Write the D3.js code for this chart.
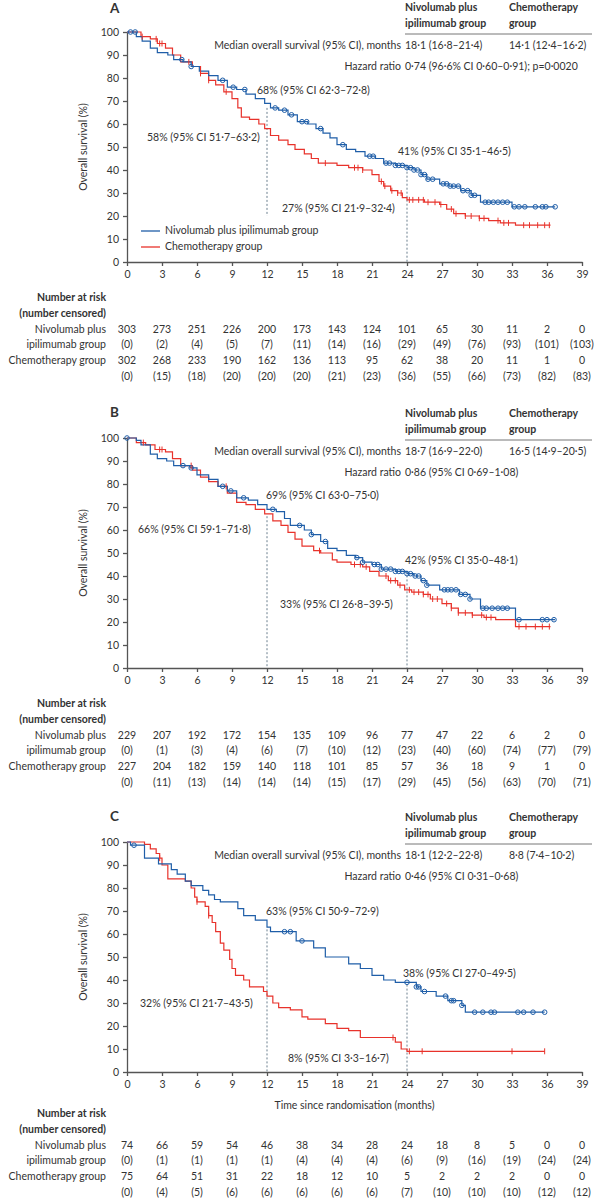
<!DOCTYPE html>
<html>
<head>
<meta charset="utf-8">
<script src="https://cdn.jsdelivr.net/npm/d3@7"></script>
<style>
  body { margin: 0; background: #fff; }
  text { font-family: Lato, "Noto Sans", sans-serif; fill: #333; }
</style>
</head>
<body>
<svg id="chart" width="595" height="1200"></svg>
<script>
// ---- data ----
const monthTicks = d3.range(0, 40, 3);

const nivoA = [[0,100],[0.8,98],[1.3,96],[2,93],[2.6,91],[3.5,90],[4,88],[4.8,87],[5.5,85],[6.2,83],[7,81],[7.8,79],[8.6,76],[9.4,75],[10.2,73],[11,71],[11.8,69],[12.3,67],[13,66],[13.8,64],[14.6,61],[15.5,60],[16.2,58],[16.8,56],[17.4,54],[18,51],[18.8,49],[19.6,48],[20.4,46],[21.3,45],[22,43],[23,42],[24,41],[24.6,40],[25.2,38],[25.7,36],[26.8,34],[27.6,33],[28.6,31],[29.5,29],[30.3,26],[33,24]];
const chemoA = [[0,100],[1.2,98],[2,97],[2.6,95],[3.3,93],[3.9,90],[4.6,87],[5.6,85],[6.3,82],[7,79],[7.6,77],[8.3,74],[9,71],[9.5,67],[9.8,63],[10.5,62],[11.3,60],[11.8,58],[12.3,55],[13,53],[13.8,51],[14.4,49],[15.2,47],[15.8,45],[16.4,43],[18,42],[19,41],[20.2,40],[21,38],[21.6,35],[22,33],[22.6,31],[23.2,30],[23.6,28],[24,27],[25.5,26],[26.8,25],[27.4,23],[28,21],[29,20],[30.2,19],[31,18],[32,17],[33.3,16]];
const nivoA_cens = [0.3,0.7,4.7,5.5,8.2,9.1,10.1,12.7,13.5,14.1,15,15.4,16.6,18.5,20.8,21.1,22.2,22.5,23,23.3,23.6,24,24.3,24.6,24.9,25.2,25.5,25.8,26.2,27.1,27.4,27.7,28,28.4,28.8,29.2,29.5,29.8,30.7,31,31.4,31.8,32.2,32.6,33.2,33.6,34.1,35,35.6,35.9,36.7];
const chemoA_cens = [1.3,2.5,2.8,3,5.3,6.3,7,8.5,17,19.5,19.8,20.2,21.8,22.1,22.7,23.2,23.5,24.2,24.5,25,25.4,25.8,26.4,26.9,27.8,28.2,29,29.5,30.2,30.6,31.8,32.3,32.7,34,34.5,35.2,35.8,36.2];

const nivoB = [[0,100],[0.8,99],[1.2,97],[2,93],[2.6,91],[3.4,90],[4,88],[5.4,87],[6,84],[7,82],[7.8,79],[8.6,77],[9.4,74],[10.4,73],[11.2,71],[12,69],[12.8,68],[13.5,65],[14,62],[15.2,60],[15.8,58],[16.6,55],[17.2,52],[18,51],[18.8,49],[19.6,48],[20.2,46],[21,45],[21.8,43],[23,42],[24,41],[24.6,40],[25.2,38],[25.7,36],[26.8,34],[28.5,32],[29.4,30],[30.3,26],[33.3,21]];
const chemoB = [[0,100],[0.8,98],[1.6,97],[2.4,95],[3.3,94],[3.9,91],[4.6,88],[5.6,86],[6.3,83],[7,81],[7.8,79],[8.6,76],[9.4,72],[10.2,71],[11,69],[11.8,67],[12.5,64],[13.2,62],[13.8,59],[14.4,56],[15,53],[16,51],[16.6,50],[17.6,47],[18,46],[19.2,45],[20.2,44],[20.8,42],[21.6,40],[22.4,38],[23.2,36],[23.8,34],[24.4,33],[25.4,32],[26,30],[27,28],[27.8,26],[28.4,24],[29.6,23],[30.6,22],[31.6,21],[33.3,18]];
const nivoB_cens = [0,4.8,5.5,8.2,8.9,10,12.5,14.8,15.8,17,19.7,20.2,21.2,21.5,21.8,22.2,22.6,23,23.3,23.6,24,24.3,24.7,25,25.4,25.7,27.2,27.5,27.8,28.2,28.6,29,29.4,30.5,30.8,31.3,31.8,32.2,32.6,33.6,35.6,36,36.6];
const chemoB_cens = [1.4,2.8,3,5.5,8.5,16.5,19.5,20,20.5,22.2,22.6,23,23.4,24.2,24.6,25,25.4,25.8,26.2,26.6,27.4,27.8,28.4,29,29.6,30.4,30.8,31.2,33.6,34.2,35,35.6,36.2];

const nivoC = [[0,100],[0.3,98.6],[1.5,93],[2.7,90.5],[3.8,88],[4.3,86],[5,83],[5.5,81],[6.5,79],[7,77],[7.5,75],[8,74],[9.5,71],[10,68],[11,66],[12,63],[12.3,61],[14.5,57],[16,54],[17,50],[19,47],[20,45],[21,42],[22,40],[23,39],[24.8,37],[25.2,35],[26.5,33],[27.5,31],[28.7,29],[29,26]];
const chemoC = [[0,100],[1.5,99],[2,97],[2.5,95],[2.8,93],[3,90],[3.5,84],[5,83],[5.5,80],[5.8,76],[6,74],[6.7,72],[7,68],[7.3,65],[7.6,61],[8,56],[8.3,53],[8.8,49],[9,45],[9.3,42],[10,40],[10.5,37],[11.7,35],[12,33],[12.5,30],[13,28],[14,27],[15,24],[15.5,23],[17,21],[18,19],[19,18],[20,15],[23,13],[23.5,10],[24,9]];
const nivoC_cens = [0.6,13.5,14,15,24,24.8,25,25.5,27.3,27.8,28,28.7,29.8,30.5,31.2,31.5,33.5,34,34.8,35.8];
const chemoC_cens = [2.8,6,7,22.8,24.2,25.3,33,35.8];

const riskA = [[303,273,251,226,200,173,143,124,101,65,30,11,2,0],["0","2","4","5","7","11","14","16","29","49","76","93","101","103"],[302,268,233,190,162,136,113,95,62,38,20,11,1,0],["0","15","18","20","20","20","21","23","36","55","66","73","82","83"]];
const riskB = [[229,207,192,172,154,135,109,96,77,47,22,6,2,0],["0","1","3","4","6","7","10","12","23","40","60","74","77","79"],[227,204,182,159,140,118,101,85,57,36,18,9,1,0],["0","11","13","14","14","14","15","17","29","45","56","63","70","71"]];
const riskC = [[74,66,59,54,46,38,34,28,24,18,8,5,0,0],["0","1","1","1","1","4","4","4","6","9","16","19","24","24"],[75,64,51,31,22,18,12,10,5,2,2,2,0,0],["0","4","5","6","6","6","6","6","7","10","10","10","12","12"]];

const panels = [
  { letter: "A", top: 32, nivo: nivoA, chemo: chemoA, nivoEnd: 36.7, chemoEnd: 36.3, nc: nivoA_cens, cc: chemoA_cens, risk: riskA,
    median: ["18·1 (16·8–21·4)", "14·1 (12·4–16·2)"], hr: "0·74 (96·6% CI 0·60–0·91); p=0·0020",
    notes: [["68% (95% CI 62·3–72·8)", 257, 91], ["58% (95% CI 51·7–63·2)", 147, 138], ["41% (95% CI 35·1–46·5)", 398, 152], ["27% (95% CI 21·9–32·4)", 282, 209]],
    drops: [[12, 67, 20], [24, 41, 0]], legend: true },
  { letter: "B", top: 438, nivo: nivoB, chemo: chemoB, nivoEnd: 36.7, chemoEnd: 36.3, nc: nivoB_cens, cc: chemoB_cens, risk: riskB,
    median: ["18·7 (16·9–22·0)", "16·5 (14·9–20·5)"], hr: "0·86 (95% CI 0·69–1·08)",
    notes: [["69% (95% CI 63·0–75·0)", 266, 496], ["66% (95% CI 59·1–71·8)", 138, 530], ["42% (95% CI 35·0–48·1)", 405, 561], ["33% (95% CI 26·8–39·5)", 280, 605]],
    drops: [[12, 66, 0], [24, 42, 0]] },
  { letter: "C", top: 842, nivo: nivoC, chemo: chemoC, nivoEnd: 35.8, chemoEnd: 35.8, nc: nivoC_cens, cc: chemoC_cens, risk: riskC,
    median: ["18·1 (12·2–22·8)", "8·8 (7·4–10·2)"], hr: "0·46 (95% CI 0·31–0·68)",
    notes: [["63% (95% CI 50·9–72·9)", 266, 912], ["32% (95% CI 21·7–43·5)", 140, 1004], ["38% (95% CI 27·0–49·5)", 403, 974], ["8% (95% CI 3·3–16·7)", 288, 1059]],
    drops: [[12, 62, 0], [24, 38, 0]], xlabel: true }
];

const blue = "#1f5ea8", red = "#e8322b", axisCol = "#555";
const svg = d3.select("#chart");
const x = d3.scaleLinear().domain([0, 39]).range([127, 582]);
const rowLabels = [["Nivolumab plus", 0], ["ipilimumab group", 1], ["Chemotherapy group", 2]];

function stepAt(pts, t) {
  let v = pts[0][1];
  for (const p of pts) { if (p[0] <= t) v = p[1]; }
  return v;
}

panels.forEach(p => {
  const y = d3.scaleLinear().domain([0, 100]).range([p.top + 230, p.top]);
  const g = svg.append("g");
  const fs = 10.5;

  g.append("text").attr("x", 110).attr("y", Math.max(p.top - 24, 10)).attr("font-size", 13.5).attr("font-weight", "bold")
    .attr("dominant-baseline", "middle").text(p.letter);

  // summary table
  const t = g.append("g").attr("font-size", fs);
  [["Nivolumab plus", "Chemotherapy"], ["ipilimumab group", "group"]].forEach((r, i) => {
    t.append("text").attr("x", 405).attr("y", p.top - 24 + i * 16).attr("font-weight", "bold").attr("dominant-baseline", "middle").text(r[0]);
    t.append("text").attr("x", 509).attr("y", p.top - 24 + i * 16).attr("font-weight", "bold").attr("dominant-baseline", "middle").text(r[1]);
  });
  t.append("line").attr("x1", 405).attr("x2", 592).attr("y1", p.top + 2).attr("y2", p.top + 2).attr("stroke", "#777");
  t.append("text").attr("x", 401).attr("y", p.top + 14).attr("text-anchor", "end").attr("dominant-baseline", "middle").text("Median overall survival (95% CI), months");
  t.append("text").attr("x", 405).attr("y", p.top + 14).attr("dominant-baseline", "middle").text(p.median[0]);
  t.append("text").attr("x", 509).attr("y", p.top + 14).attr("dominant-baseline", "middle").text(p.median[1]);
  t.append("text").attr("x", 401).attr("y", p.top + 35).attr("text-anchor", "end").attr("dominant-baseline", "middle").text("Hazard ratio");
  t.append("text").attr("x", 405).attr("y", p.top + 35).attr("dominant-baseline", "middle").text(p.hr);

  // axes
  const ya = g.append("g").attr("transform", `translate(${x(0)},0)`)
    .call(d3.axisLeft(y).tickValues(d3.range(0, 101, 10)).tickSize(4).tickSizeOuter(0));
  const xa = g.append("g").attr("transform", `translate(0,${y(0)})`)
    .call(d3.axisBottom(x).tickValues(monthTicks).tickSize(4).tickSizeOuter(0));
  [ya, xa].forEach(a => {
    a.selectAll("path,line").attr("stroke", axisCol).attr("stroke-width", 1.3);
    a.selectAll("text").attr("font-size", fs).attr("fill", "#333").style("font-family", "Lato, sans-serif");
  });
  ya.selectAll("text").attr("dx", "-1");
  xa.selectAll("text").attr("dy", "0.9em");

  g.append("text").attr("transform", `translate(84,${y(50)}) rotate(-90)`).attr("text-anchor", "middle")
    .attr("font-size", fs).attr("dominant-baseline", "middle").text("Overall survival (%)");

  // dotted reference lines
  p.drops.forEach(d => {
    g.append("line").attr("x1", x(d[0])).attr("x2", x(d[0])).attr("y1", y(d[1])).attr("y2", y(d[2]))
      .attr("stroke", "#6b7f8e").attr("stroke-width", 1).attr("stroke-dasharray", "2,2");
  });

  // curves
  const line = d3.line().x(d => x(d[0])).y(d => y(d[1])).curve(d3.curveStepAfter);
  [[p.chemo, p.chemoEnd, red], [p.nivo, p.nivoEnd, blue]].forEach(([pts, end, col]) => {
    const full = pts.concat([[end, pts[pts.length - 1][1]]]);
    g.append("path").attr("d", line(full)).attr("fill", "none").attr("stroke", col).attr("stroke-width", 1.2);
  });
  g.selectAll(null).data(p.cc).join("line")
    .attr("x1", d => x(d)).attr("x2", d => x(d))
    .attr("y1", d => y(stepAt(p.chemo, d)) - 3).attr("y2", d => y(stepAt(p.chemo, d)) + 3)
    .attr("stroke", red).attr("stroke-width", 1);
  g.selectAll(null).data(p.nc).join("circle")
    .attr("cx", d => x(d)).attr("cy", d => y(stepAt(p.nivo, d))).attr("r", 2.3)
    .attr("fill", "none").attr("stroke", blue).attr("stroke-width", 1);

  // annotations
  p.notes.forEach(n => {
    g.append("text").attr("x", n[1]).attr("y", n[2]).attr("font-size", fs).attr("dominant-baseline", "middle").text(n[0]);
  });

  if (p.legend) {
    [["Nivolumab plus ipilimumab group", blue, 231], ["Chemotherapy group", red, 247]].forEach(l => {
      g.append("line").attr("x1", 141).attr("x2", 160).attr("y1", l[2]).attr("y2", l[2]).attr("stroke", l[1]).attr("stroke-width", 1.3);
      g.append("text").attr("x", 165).attr("y", l[2]).attr("font-size", fs).attr("dominant-baseline", "middle").text(l[0]);
    });
  }

  let base = y(0);
  if (p.xlabel) {
    g.append("text").attr("x", x(19.5)).attr("y", base + 34).attr("text-anchor", "middle").attr("font-size", fs)
      .attr("dominant-baseline", "middle").text("Time since randomisation (months)");
    base += 6;
  }

  // number at risk
  g.append("text").attr("x", 106).attr("y", base + 36).attr("text-anchor", "end").attr("font-size", fs).attr("font-weight", "bold")
    .attr("dominant-baseline", "middle").text("Number at risk");
  g.append("text").attr("x", 106).attr("y", base + 52).attr("text-anchor", "end").attr("font-size", fs).attr("font-weight", "bold")
    .attr("dominant-baseline", "middle").text("(number censored)");
  rowLabels.forEach(([lab, i]) => {
    g.append("text").attr("x", 106).attr("y", base + 68 + i * 15.7).attr("text-anchor", "end").attr("font-size", fs)
      .attr("dominant-baseline", "middle").text(lab);
  });
  p.risk.forEach((row, i) => {
    g.selectAll(null).data(row).join("text")
      .attr("x", (d, j) => x(monthTicks[j])).attr("y", base + 68 + i * 15.7)
      .attr("text-anchor", "middle").attr("font-size", fs).attr("dominant-baseline", "middle")
      .text(d => (i % 2 === 1 ? `(${d})` : d));
  });
});
</script>
</body>
</html>
